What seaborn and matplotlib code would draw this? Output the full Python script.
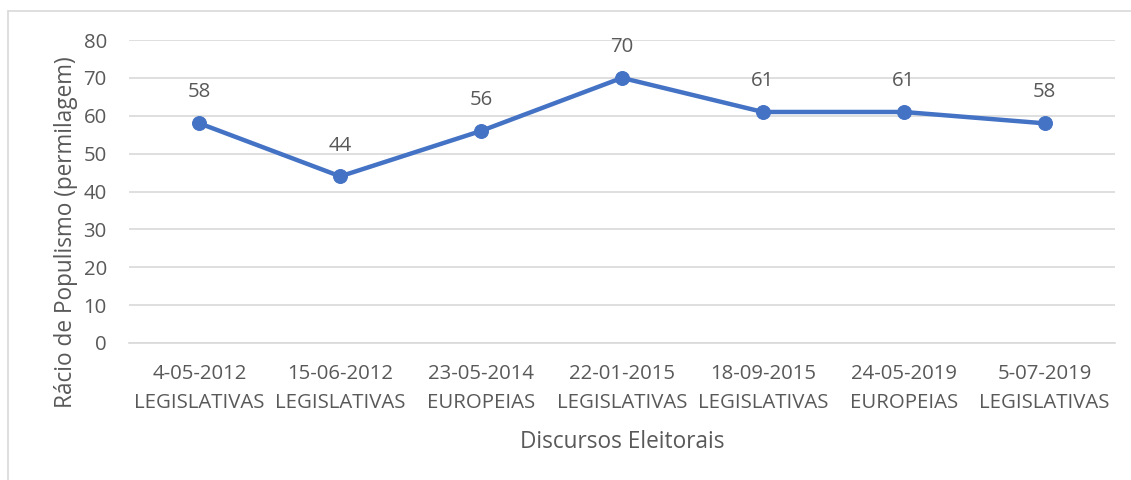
import matplotlib
matplotlib.use("Agg")
import matplotlib.pyplot as plt
import seaborn as sns
import pandas as pd
from matplotlib.lines import Line2D

dates = ["4-05-2012", "15-06-2012", "23-05-2014", "22-01-2015", "18-09-2015", "24-05-2019", "5-07-2019"]
kinds = ["LEGISLATIVAS", "LEGISLATIVAS", "EUROPEIAS", "LEGISLATIVAS", "LEGISLATIVAS", "EUROPEIAS", "LEGISLATIVAS"]
values = [58, 44, 56, 70, 61, 61, 58]
yticks = [0, 10, 20, 30, 40, 50, 60, 70, 80]

labels = [f"{d}\n{k}" for d, k in zip(dates, kinds)]
df = pd.DataFrame({"pos": range(len(values)), "label": labels, "value": values})

sns.set_theme(style="white")
plt.rcParams['font.family'] = ['Open Sans', 'DejaVu Sans']

grey = "#595959"
blue = "#4472C4"
fs_tick = 14.7
fs_label = 16.3
fig = plt.figure(figsize=(11.31, 4.8), dpi=100)
ax = fig.add_axes([129/1131, 1-343/480, (1115-129)/1131, (343-40)/480])

sns.lineplot(data=df, x="pos", y="value", ax=ax, color=blue, linewidth=3.2,
             marker="o", markersize=10, markeredgecolor=blue, zorder=3)

for x, v in zip(df["pos"], df["value"]):
    ax.annotate(str(v), (x, v), xytext=(0, 15), textcoords="offset points",
                ha="center", va="bottom", fontsize=fs_tick, color=grey)

ax.set_xlim(-0.5, len(values) - 0.5)
ax.set_ylim(0, 80)
ax.set_yticks(yticks)
ax.set_yticklabels([str(t) for t in yticks], fontsize=fs_tick, color=grey)
ax.set_xticks(list(df["pos"]))
ax.set_xticklabels(labels, fontsize=fs_tick, color=grey, linespacing=1.6)
ax.set_xticks([i - 0.5 for i in range(len(values) + 1)], minor=True)
ax.tick_params(axis="x", which="major", length=0, pad=15)
ax.tick_params(axis="x", which="minor", length=7, color="#d9d9d9", width=1.2, direction="out")
ax.tick_params(axis="y", length=0, pad=16)
ax.grid(axis="y", color="#d9d9d9", linewidth=1.2)
ax.set_axisbelow(True)
for s in ["top", "right", "left"]:
    ax.spines[s].set_visible(False)
ax.spines["bottom"].set_color("#d9d9d9")
ax.spines["bottom"].set_linewidth(1.2)

ax.set_xlabel("Discursos Eleitorais", fontsize=fs_label, color=grey, labelpad=12)
ax.set_ylabel("Rácio de Populismo (permilagem)", fontsize=fs_label, color=grey)
ax.yaxis.set_label_coords(-0.052, 0.366)

# chart frame (top and left visible)
fig.add_artist(Line2D([8/1131, 1], [1-11/480, 1-11/480], transform=fig.transFigure, color="#d9d9d9", linewidth=1.2))
fig.add_artist(Line2D([8/1131, 8/1131], [0, 1-11/480], transform=fig.transFigure, color="#d9d9d9", linewidth=1.2))

fig.savefig("out.png", dpi=100)
